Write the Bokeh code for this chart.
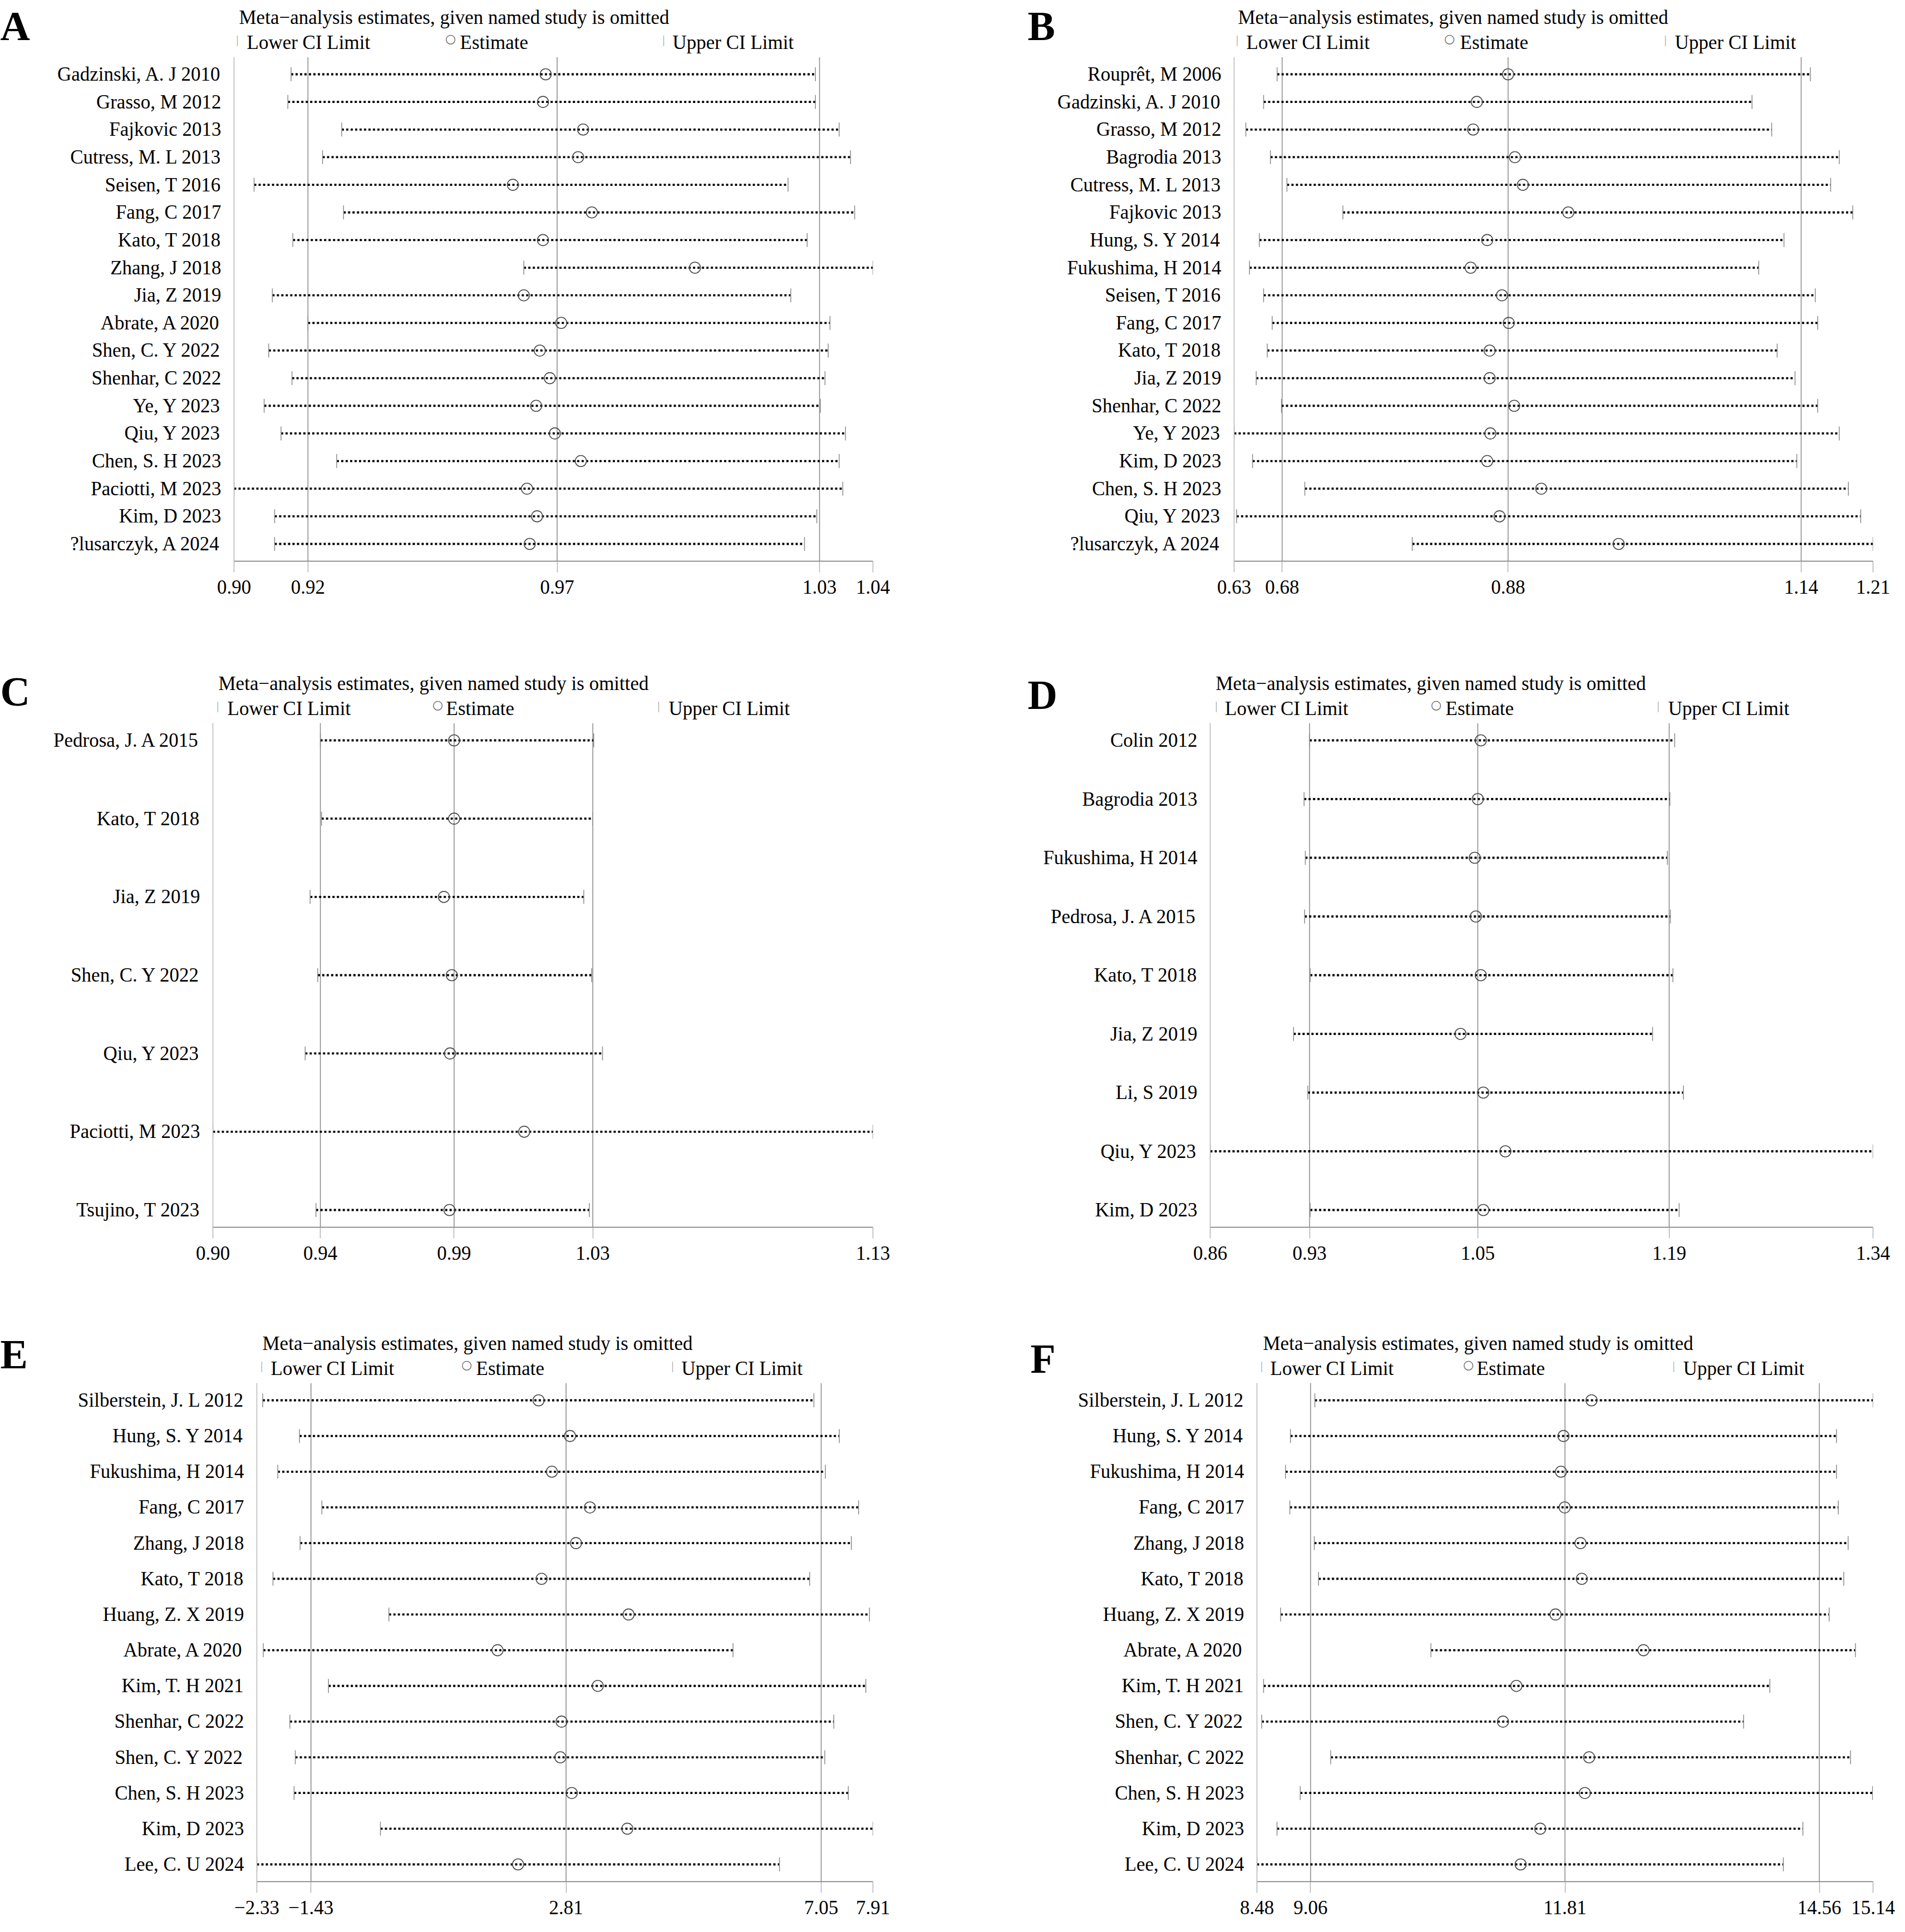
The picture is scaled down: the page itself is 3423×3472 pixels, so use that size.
import numpy as np
from bokeh.plotting import figure
from bokeh.models import Range1d, FixedTicker, Span, Label, CustomJSTickFormatter
from bokeh.layouts import row, column
from bokeh.embed import file_html
from bokeh.resources import INLINE

FONT = "Liberation Serif"
TITLE = "Meta\u2212analysis estimates, given named study is omitted"

# ---------------- Panel A ----------------
A_studies = ["Gadzinski, A. J 2010", "Grasso, M 2012", "Fajkovic 2013", "Cutress, M. L 2013",
             "Seisen, T 2016", "Fang, C 2017", "Kato, T 2018", "Zhang, J 2018", "Jia, Z 2019",
             "Abrate, A 2020", "Shen, C. Y 2022", "Shenhar, C 2022", "Ye, Y 2023", "Qiu, Y 2023",
             "Chen, S. H 2023", "Paciotti, M 2023", "Kim, D 2023", "?lusarczyk, A 2024"]
A_lower = [0.9125, 0.9118, 0.9236, 0.9194, 0.9044, 0.9240, 0.9129, 0.9635, 0.9084,
           0.9162, 0.9076, 0.9127, 0.9066, 0.9103, 0.9225, 0.9000, 0.9089, 0.9089]
A_est = [0.9683, 0.9677, 0.9765, 0.9754, 0.9611, 0.9784, 0.9677, 1.0010, 0.9635,
         0.9717, 0.9670, 0.9692, 0.9662, 0.9703, 0.9760, 0.9642, 0.9664, 0.9648]
A_upper = [1.0274, 1.0274, 1.0326, 1.0351, 1.0214, 1.0360, 1.0256, 1.0400, 1.0220,
           1.0306, 1.0302, 1.0295, 1.0285, 1.0340, 1.0326, 1.0334, 1.0277, 1.0250]
A_overall = [0.9162, 0.9708, 1.0283]
A_ticklabels = ["0.90", "0.92", "0.97", "1.03", "1.04"]

# ---------------- Panel B ----------------
B_studies = ["Roupr\u00eat, M 2006", "Gadzinski, A. J 2010", "Grasso, M 2012", "Bagrodia 2013",
             "Cutress, M. L 2013", "Fajkovic 2013", "Hung, S. Y 2014", "Fukushima, H 2014",
             "Seisen, T 2016", "Fang, C 2017", "Kato, T 2018", "Jia, Z 2019", "Shenhar, C 2022",
             "Ye, Y 2023", "Kim, D 2023", "Chen, S. H 2023", "Qiu, Y 2023", "?lusarczyk, A 2024"]
B_lower = [0.6725, 0.6604, 0.6445, 0.6665, 0.6813, 0.7314, 0.6566, 0.6478, 0.6604,
           0.6681, 0.6637, 0.6538, 0.6764, 0.6340, 0.6505, 0.6973, 0.6362, 0.7935]
B_est = [0.8793, 0.8513, 0.8480, 0.8854, 0.8925, 0.9332, 0.8606, 0.8458, 0.8738,
         0.8799, 0.8628, 0.8628, 0.8848, 0.8634, 0.8606, 0.9090, 0.8716, 0.9783]
B_upper = [1.1499, 1.0977, 1.1153, 1.1758, 1.1681, 1.1879, 1.1263, 1.1037, 1.1543,
           1.1565, 1.1202, 1.1362, 1.1565, 1.1758, 1.1378, 1.1840, 1.1950, 1.2060]
B_overall = [0.6770, 0.8793, 1.1417]
B_ticklabels = ["0.63", "0.68", "0.88", "1.14", "1.21"]

# ---------------- Panel C ----------------
C_studies = ["Pedrosa, J. A 2015", "Kato, T 2018", "Jia, Z 2019", "Shen, C. Y 2022",
             "Qiu, Y 2023", "Paciotti, M 2023", "Tsujino, T 2023"]
C_lower = [0.9408, 0.9412, 0.9373, 0.9399, 0.9356, 0.9040, 0.9393]
C_est = [0.9866, 0.9866, 0.9831, 0.9858, 0.9852, 1.0106, 0.9850]
C_upper = [1.0344, 1.0341, 1.0310, 1.0337, 1.0374, 1.1300, 1.0329]
C_overall = [0.9408, 0.9866, 1.0341]
C_ticklabels = ["0.90", "0.94", "0.99", "1.03", "1.13"]

# ---------------- Panel D ----------------
D_studies = ["Colin 2012", "Bagrodia 2013", "Fukushima, H 2014", "Pedrosa, J. A 2015",
             "Kato, T 2018", "Jia, Z 2019", "Li, S 2019", "Qiu, Y 2023", "Kim, D 2023"]
D_lower = [0.9320, 0.9280, 0.9289, 0.9284, 0.9324, 0.9204, 0.9307, 0.8600, 0.9324]
D_est = [1.0560, 1.0538, 1.0516, 1.0524, 1.0560, 1.0413, 1.0578, 1.0738, 1.0578]
D_upper = [1.1964, 1.1929, 1.1911, 1.1933, 1.1951, 1.1804, 1.2027, 1.3400, 1.1996]
D_overall = [0.9320, 1.0538, 1.1924]
D_ticklabels = ["0.86", "0.93", "1.05", "1.19", "1.34"]

# ---------------- Panel E ----------------
E_studies = ["Silberstein, J. L 2012", "Hung, S. Y 2014", "Fukushima, H 2014", "Fang, C 2017",
             "Zhang, J 2018", "Kato, T 2018", "Huang, Z. X 2019", "Abrate, A 2020",
             "Kim, T. H 2021", "Shenhar, C 2022", "Shen, C. Y 2022", "Chen, S. H 2023",
             "Kim, D 2023", "Lee, C. U 2024"]
E_lower = [-2.233, -1.621, -1.982, -1.249, -1.611, -2.062, -0.135, -2.223,
           -1.139, -1.781, -1.691, -1.711, -0.276, -2.330]
E_est = [2.353, 2.875, 2.574, 3.206, 2.975, 2.403, 3.849, 1.671,
         3.337, 2.735, 2.715, 2.905, 3.828, 2.012]
E_upper = [6.929, 7.351, 7.120, 7.672, 7.551, 6.859, 7.853, 5.585,
           7.792, 7.260, 7.110, 7.501, 7.910, 6.357]
E_overall = [-1.43, 2.81, 7.05]
E_ticklabels = ["\u22122.33", "\u22121.43", "2.81", "7.05", "7.91"]

# ---------------- Panel F ----------------
F_studies = ["Silberstein, J. L 2012", "Hung, S. Y 2014", "Fukushima, H 2014", "Fang, C 2017",
             "Zhang, J 2018", "Kato, T 2018", "Huang, Z. X 2019", "Abrate, A 2020",
             "Kim, T. H 2021", "Shen, C. Y 2022", "Shenhar, C 2022", "Chen, S. H 2023",
             "Kim, D 2023", "Lee, C. U 2024"]
F_lower = [9.106, 8.842, 8.789, 8.836, 9.100, 9.146, 8.736, 10.361,
           8.552, 8.532, 9.278, 8.948, 8.697, 8.480]
F_est = [12.097, 11.794, 11.767, 11.807, 11.978, 11.992, 11.708, 12.659,
         11.285, 11.140, 12.071, 12.025, 11.543, 11.331]
F_upper = [15.140, 14.745, 14.745, 14.765, 14.871, 14.824, 14.666, 14.950,
           14.025, 13.741, 14.897, 15.135, 14.382, 14.171]
F_overall = [9.06, 11.81, 14.56]
F_ticklabels = ["8.48", "9.06", "11.81", "14.56", "15.14"]

LEG_TEXTS = ["Lower CI Limit", "Estimate", "Upper CI Limit"]


def make_header(letter, g):
    W, hh, ml = g["W"], g["hh"], g["ml"]
    h = figure(width=W, height=hh, x_range=Range1d(0, W), y_range=Range1d(0, hh),
               min_border_left=0, min_border_right=0, min_border_top=0, min_border_bottom=0,
               x_axis_location=None, y_axis_location=None, frame_align=False,
               output_backend="svg", toolbar_location=None, tools="")
    h.outline_line_color = None
    h.grid.visible = False

    def lab(x, y, text, **kw):
        h.add_layout(Label(x=x, y=y, x_units="screen", y_units="screen", text=text, **kw))

    lab(ml + g["title_dx"], 71, TITLE, text_font=FONT, text_font_size="35px",
        text_color="black", text_baseline="alphabetic", text_align="left")
    b1, t1, c2, t2, b3, t3 = g["leg"]
    for bx in (b1, b3):
        lab(ml + bx, 32, "|", text_font=FONT, text_font_size="20px", text_color="#9a9a9a",
            text_baseline="middle", text_align="center")
    lab(ml + c2, 33, "\u25cb", text_font="DejaVu Sans", text_font_size="22px",
        text_color="#666666", text_baseline="middle", text_align="center")
    for tx, tt in zip((t1, t2, t3), LEG_TEXTS):
        lab(ml + tx, 26, tt, text_font=FONT, text_font_size="35px", text_color="black",
            text_baseline="alphabetic", text_align="left")
    lab(max(ml + g["letter_dx"], 0), g["letter_up"], letter, text_font=FONT,
        text_font_size="74px", text_font_style="bold", text_color="black",
        text_baseline="alphabetic", text_align="left")
    return h


def make_panel(studies, lo, es, up, overall, ticklabels, g):
    n = len(studies)
    W, ml, mr, mb, FH = g["W"], g["ml"], g["mr"], g["mb"], g["fh"]
    pad = 31.0
    s = (FH - 2 * pad) / (n - 1)
    padu = pad / s
    xmin, xmax = min(lo), max(up)
    p = figure(width=W, height=FH + mb, min_border_left=ml, min_border_right=mr,
               min_border_top=0, min_border_bottom=mb, frame_align=False,
               x_range=Range1d(xmin, xmax), y_range=Range1d(n + padu, 1 - padu),
               output_backend="svg", toolbar_location=None, tools="")
    p.outline_line_color = None
    p.grid.visible = False

    ticks = [xmin] + list(overall) + [xmax]
    xa = p.xaxis[0]
    xa.ticker = FixedTicker(ticks=ticks)
    xa.formatter = CustomJSTickFormatter(args=dict(vals=ticks, labs=ticklabels), code="""
        let best = 0;
        for (let i = 0; i < vals.length; i++) {
            if (Math.abs(vals[i] - tick) < Math.abs(vals[best] - tick)) best = i;
        }
        return labs[best];
    """)
    xa.minor_tick_line_color = None
    xa.major_tick_out = 20
    xa.major_tick_in = 0
    xa.major_tick_line_color = "#b4b4b4"
    xa.major_tick_line_width = 1.5
    xa.axis_line_color = "#707070"
    xa.axis_line_width = 1.5
    xa.major_label_standoff = 14
    xa.major_label_text_font = FONT
    xa.major_label_text_font_size = "35px"
    xa.major_label_text_color = "black"

    ya = p.yaxis[0]
    ya.ticker = FixedTicker(ticks=list(range(1, n + 1)))
    ya.formatter = CustomJSTickFormatter(args=dict(names=studies),
                                         code="return names[Math.round(tick) - 1];")
    ya.minor_tick_line_color = None
    ya.major_tick_line_color = None
    ya.major_tick_out = 0
    ya.major_tick_in = 0
    ya.axis_line_color = "#b8b8b8"
    ya.axis_line_width = 1.5
    ya.major_label_standoff = 23
    ya.major_label_text_font = FONT
    ya.major_label_text_font_size = "35px"
    ya.major_label_text_color = "black"

    for v in overall:
        p.add_layout(Span(location=v, dimension="height", line_color="#888888",
                          line_width=1.5, level="underlay"))

    ys = list(range(1, n + 1))
    p.segment(x0=lo, y0=ys, x1=up, y1=ys, line_color="black", line_width=3.8,
              line_dash="4 4")
    p.scatter(x=lo, y=ys, marker="dash", angle=np.pi / 2, size=25,
              line_color="#8c8c8c", line_width=1.5)
    p.scatter(x=up, y=ys, marker="dash", angle=np.pi / 2, size=25,
              line_color="#8c8c8c", line_width=1.5)
    p.scatter(x=es, y=ys, marker="circle", size=20, fill_color=None,
              line_color="#4a4a4a", line_width=1.6)
    return p


# page layout: row1 top 8, row2 top 1150, row3 top 2334 (bottom 3464)
GEOM = {
    "A": dict(W=1692, hh=102, ml=420, mr=124, mb=134, fh=906,
              leg=(6, 23, 389, 406, 772, 788), title_dx=9, letter_dx=-420, letter_up=56),
    "B": dict(W=1713, hh=102, ml=525, mr=40, mb=134, fh=906,
              leg=(5.5, 22, 387, 406, 775, 792), title_dx=7, letter_dx=-371, letter_up=56),
    "C": dict(W=1692, hh=157, ml=382, mr=124, mb=121, fh=906,
              leg=(8.7, 26, 404, 419, 801, 819), title_dx=10, letter_dx=-382, letter_up=57),
    "D": dict(W=1713, hh=157, ml=482, mr=40, mb=121, fh=906,
              leg=(11, 26.5, 406, 423, 805, 823), title_dx=10, letter_dx=-328, letter_up=51),
    "E": dict(W=1692, hh=159, ml=461, mr=124, mb=75, fh=896,
              leg=(8.7, 25, 377, 394, 747, 763), title_dx=10, letter_dx=-461, letter_up=52),
    "F": dict(W=1713, hh=159, ml=566, mr=40, mb=75, fh=896,
              leg=(8.5, 24, 380, 395, 749, 766), title_dx=11, letter_dx=-407, letter_up=44),
}

DATA = {
    "A": (A_studies, A_lower, A_est, A_upper, A_overall, A_ticklabels),
    "B": (B_studies, B_lower, B_est, B_upper, B_overall, B_ticklabels),
    "C": (C_studies, C_lower, C_est, C_upper, C_overall, C_ticklabels),
    "D": (D_studies, D_lower, D_est, D_upper, D_overall, D_ticklabels),
    "E": (E_studies, E_lower, E_est, E_upper, E_overall, E_ticklabels),
    "F": (F_studies, F_lower, F_est, F_upper, F_overall, F_ticklabels),
}

cells = {}
for k in "ABCDEF":
    g = GEOM[k]
    cells[k] = column(make_header(k, g), make_panel(*DATA[k], g))

layout = column(row(cells["A"], cells["B"]), row(cells["C"], cells["D"]),
                row(cells["E"], cells["F"]))
open("out.html", "w").write(file_html(layout, INLINE))
